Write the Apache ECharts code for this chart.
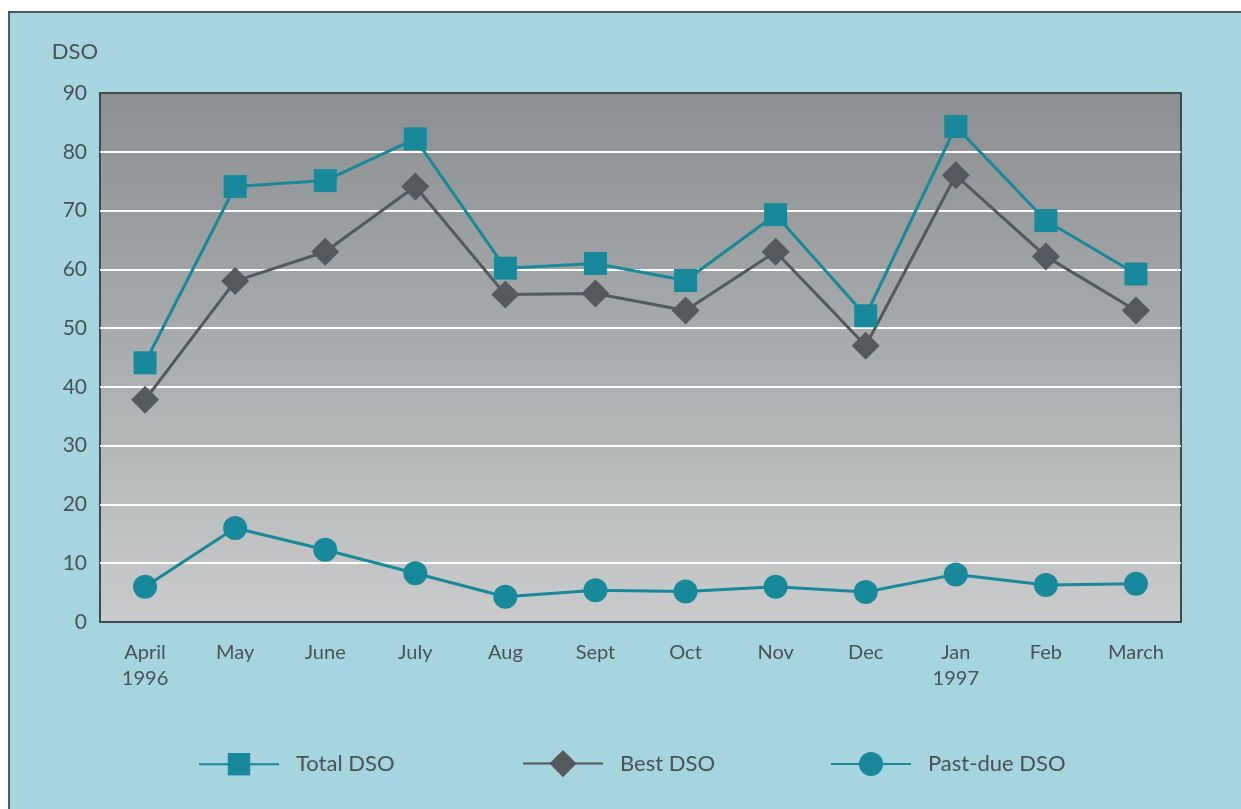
<!DOCTYPE html>
<html>
<head>
<meta charset="utf-8">
<script src="https://cdn.jsdelivr.net/npm/echarts@6/dist/echarts.min.js"></script>
<style>
    html, body { margin: 0; padding: 0; background: #ffffff; }
    #panel { position: absolute; left: 8px; top: 11px; width: 1233px; height: 798px;
             background: #a6d5e0; border-top: 2px solid #4d5a60; border-left: 2px solid #4d5a60; box-sizing: border-box; }
    #chart { position: absolute; left: 0; top: 0; width: 1241px; height: 809px; }
</style>
</head>
<body>
<div id="panel"></div>
<div id="chart"></div>
<script>
// DSO by month, April 1996 - March 1997
var months = ['April\n1996', 'May', 'June', 'July', 'Aug', 'Sept', 'Oct', 'Nov', 'Dec', 'Jan\n1997', 'Feb', 'March'];
var totalDso = [44.1, 74.1, 75.1, 82.2, 60.2, 61.0, 58.1, 69.3, 52.1, 84.3, 68.3, 59.2];
var bestDso = [37.8, 58.0, 63.0, 74.1, 55.7, 55.9, 53.0, 63.0, 47.0, 76.0, 62.2, 53.0];
var pastDueDso = [6.0, 16.0, 12.3, 8.3, 4.3, 5.4, 5.2, 6.0, 5.1, 8.1, 6.3, 6.5];

var teal = '#18899a';
var slate = '#53595c';
var txt = '#4a5256';
var font = 'Lato';

// one legend per series so each sits where the reference has it
function legendAt(left, name, h) {
    return {
        left: left, top: 767 - h / 2,
        padding: 0,
        itemWidth: 80, itemHeight: h,
        data: [name],
        selectedMode: false,
        textStyle: { fontFamily: font, fontSize: 22, color: txt, padding: [0, 0, 0, 12] }
    };
}

var myChart = echarts.init(document.getElementById('chart'));
var option = {
    backgroundColor: 'transparent',
    animation: false,
    grid: {
        left: 100, right: 60, top: 93, bottom: 187,
        show: true,
        borderColor: '#3e4b50',
        borderWidth: 2,
        backgroundColor: new echarts.graphic.LinearGradient(0, 0, 0, 1, [
            { offset: 0, color: '#8b8f91' },
            { offset: 1, color: '#c9cbcc' }
        ])
    },
    legend: [
        legendAt(198, 'Total DSO', 28),
        legendAt(522, 'Best DSO', 34),
        legendAt(830, 'Past-due DSO', 30)
    ],
    xAxis: {
        type: 'category',
        data: months,
        axisLine: { show: false },
        axisTick: { show: false },
        axisLabel: { fontFamily: font, fontSize: 20, color: txt, margin: 18, lineHeight: 26 }
    },
    yAxis: {
        type: 'value',
        min: 0, max: 90, interval: 10,
        name: 'DSO',
        nameLocation: 'end',
        nameGap: 30,
        nameTextStyle: { fontFamily: font, fontSize: 22, color: txt, align: 'right', padding: [0, 2, 0, 0] },
        axisLine: { show: false },
        axisTick: { show: false },
        axisLabel: { fontFamily: font, fontSize: 21, color: txt, margin: 13 },
        splitLine: { showMinLine: false, showMaxLine: false, lineStyle: { color: '#ffffff', width: 2 } }
    },
    series: [
        {
            name: 'Total DSO', type: 'line', data: totalDso,
            symbol: 'rect', symbolSize: 23,
            lineStyle: { color: teal, width: 3 },
            itemStyle: { color: teal }, z: 3
        },
        {
            name: 'Best DSO', type: 'line', data: bestDso,
            symbol: 'diamond', symbolSize: 28,
            lineStyle: { color: slate, width: 3 },
            itemStyle: { color: slate }, z: 2
        },
        {
            name: 'Past-due DSO', type: 'line', data: pastDueDso,
            symbol: 'circle', symbolSize: 24,
            lineStyle: { color: teal, width: 3 },
            itemStyle: { color: teal }, z: 3
        }
    ]
};
myChart.setOption(option);
</script>
</body>
</html>
